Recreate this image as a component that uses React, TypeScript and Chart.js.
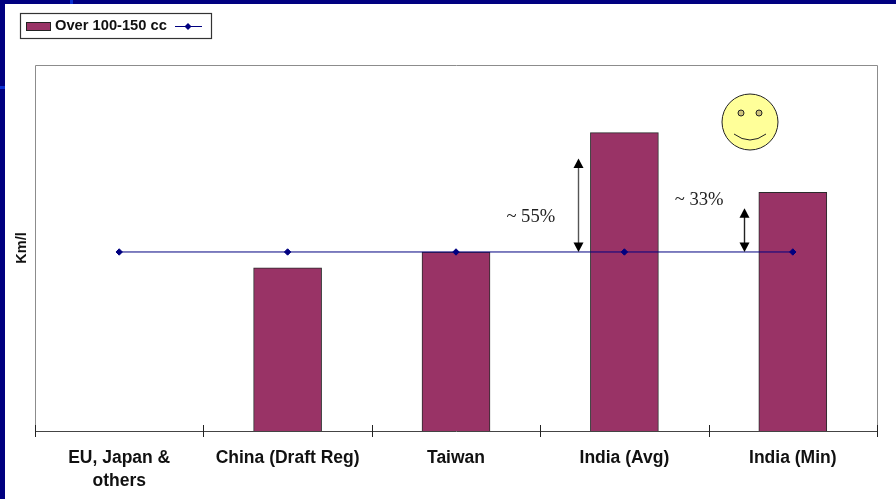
import { useEffect, useRef } from "react";
import { Chart, registerables } from "chart.js";

Chart.register(...registerables);

const categories = [["EU, Japan &", "others"], "China (Draft Reg)", "Taiwan", "India (Avg)", "India (Min)"];
const fuelEconomy = [null, 41, 45, 75, 60];
const referenceLevel = [45, 45, 45, 45, 45];
const seriesName = "Over 100-150 cc";
const axisTitle = "Km/l";
const yMax = 92;
const gapNotes = [
  { label: "~ 55%", top: 68.5, dx: -46, textDx: -118, textValue: 53.7 },
  { label: "~ 33%", top: 56, dx: -49, textDx: -118, textValue: 58 },
];

const PLUM = "#993366";
const NAVY = "#000080";
const SANS = "'Liberation Sans', Arial, sans-serif";
const SERIF = "'Liberation Serif', 'Times New Roman', serif";

function arrowHead(ctx: CanvasRenderingContext2D, x: number, tipY: number, dir: number) {
  ctx.beginPath();
  ctx.moveTo(x, tipY);
  ctx.lineTo(x - 5, tipY + dir * 9.5);
  ctx.lineTo(x + 5, tipY + dir * 9.5);
  ctx.closePath();
  ctx.fill();
}

// Slide background: navy frame with a white panel, plus two small bright specks on the frame.
const backdrop = {
  id: "backdrop",
  beforeDraw(chart: Chart) {
    const { ctx, width, height } = chart;
    ctx.save();
    ctx.fillStyle = NAVY;
    ctx.fillRect(0, 0, width, height);
    ctx.fillStyle = "#0a2fd0";
    ctx.fillRect(0, 86, 5, 3);
    ctx.fillRect(70, 0, 3, 4);
    ctx.fillStyle = "#ffffff";
    ctx.fillRect(5, 4, width - 5, height - 4);
    ctx.restore();
  },
};

// Plot frame, category ticks, legend box, gap arrows and the smiley.
const decorations = {
  id: "decorations",
  beforeDatasetsDraw(chart: Chart) {
    const { ctx, chartArea: a } = chart;
    ctx.save();
    ctx.strokeStyle = "#8c8c8c";
    ctx.lineWidth = 1;
    ctx.beginPath();
    ctx.moveTo(a.left + 0.5, a.bottom);
    ctx.lineTo(a.left + 0.5, a.top + 0.5);
    ctx.lineTo(a.right + 0.5, a.top + 0.5);
    ctx.lineTo(a.right + 0.5, a.bottom);
    ctx.stroke();
    ctx.restore();
  },
  afterDraw(chart: Chart) {
    const { ctx, chartArea: a } = chart;
    const xs = chart.scales.x;
    const ys = chart.scales.y;
    ctx.save();

    // Category ticks cross the axis line
    ctx.strokeStyle = "#222222";
    ctx.lineWidth = 1;
    const step = (a.right - a.left) / categories.length;
    for (let i = 0; i <= categories.length; i++) {
      const x = Math.round(a.left + step * i) + 0.5;
      ctx.beginPath();
      ctx.moveTo(x, a.bottom - 6);
      ctx.lineTo(x, a.bottom + 6);
      ctx.stroke();
    }

    // Legend
    ctx.fillStyle = "#ffffff";
    ctx.fillRect(20.5, 13.5, 191, 25);
    ctx.strokeStyle = "#333333";
    ctx.lineWidth = 1.2;
    ctx.strokeRect(20.5, 13.5, 191, 25);
    ctx.lineWidth = 1;
    ctx.fillStyle = PLUM;
    ctx.fillRect(26, 22, 24, 8);
    ctx.strokeStyle = "#222222";
    ctx.strokeRect(26.5, 22.5, 24, 8);
    ctx.fillStyle = "#111111";
    ctx.font = `bold 14.7px ${SANS}`;
    ctx.textAlign = "left";
    ctx.textBaseline = "middle";
    ctx.fillText(seriesName, 55, 26);
    ctx.strokeStyle = NAVY;
    ctx.beginPath();
    ctx.moveTo(175, 26.5);
    ctx.lineTo(202, 26.5);
    ctx.stroke();
    ctx.fillStyle = NAVY;
    ctx.beginPath();
    ctx.moveTo(188, 23);
    ctx.lineTo(191.5, 26.5);
    ctx.lineTo(188, 30);
    ctx.lineTo(184.5, 26.5);
    ctx.closePath();
    ctx.fill();

    // Gap arrows between the reference line and the two India bars
    gapNotes.forEach((note, i) => {
      const centre = xs.getPixelForValue(3 + i);
      const x = Math.round(centre + note.dx) + 0.5;
      const bottom = ys.getPixelForValue(referenceLevel[3 + i]);
      const top = ys.getPixelForValue(note.top);
      ctx.strokeStyle = i === 0 ? "#555555" : "#222222";
      ctx.lineWidth = 1.4;
      ctx.beginPath();
      ctx.moveTo(x, top + 4);
      ctx.lineTo(x, bottom - 4);
      ctx.stroke();
      ctx.fillStyle = "#000000";
      arrowHead(ctx, x, top, 1);
      arrowHead(ctx, x, bottom, -1);
      ctx.font = `18.6px ${SERIF}`;
      ctx.textAlign = "left";
      ctx.textBaseline = "middle";
      ctx.fillStyle = "#222222";
      ctx.fillText(note.label, centre + note.textDx, ys.getPixelForValue(note.textValue));
    });

    // Smiley
    const cx = 750;
    const cy = 122;
    ctx.fillStyle = "#ffff99";
    ctx.strokeStyle = "#222222";
    ctx.lineWidth = 1;
    ctx.beginPath();
    ctx.arc(cx, cy, 28, 0, Math.PI * 2);
    ctx.fill();
    ctx.stroke();
    ctx.fillStyle = "#cdc27a";
    [-9, 9].forEach((dx) => {
      ctx.beginPath();
      ctx.arc(cx + dx, cy - 9, 3, 0, Math.PI * 2);
      ctx.fill();
      ctx.stroke();
    });
    ctx.beginPath();
    ctx.moveTo(cx - 16, cy + 12);
    ctx.quadraticCurveTo(cx, cy + 24, cx + 16, cy + 12);
    ctx.stroke();

    ctx.restore();
  },
};

export default function App() {
  const canvasRef = useRef<HTMLCanvasElement>(null);

  useEffect(() => {
    document.body.style.margin = "0";
    document.body.style.background = "#ffffff";
    const chart = new Chart(canvasRef.current!, {
      type: "bar",
      data: {
        labels: categories as any,
        datasets: [
          {
            type: "line",
            label: "Reference level",
            data: referenceLevel,
            borderColor: NAVY,
            borderWidth: 1,
            pointStyle: "rectRot",
            pointRadius: 3.2,
            pointBackgroundColor: NAVY,
            pointBorderColor: NAVY,
            tension: 0,
            order: 0,
          },
          {
            type: "bar",
            label: seriesName,
            data: fuelEconomy as any,
            backgroundColor: PLUM,
            borderColor: "#2b2b2b",
            borderWidth: 1,
            barThickness: 68,
            order: 1,
          },
        ],
      },
      options: {
        responsive: false,
        animation: false,
        layout: { padding: { top: 65, right: 19, bottom: 0, left: 0 } },
        plugins: { legend: { display: false }, tooltip: { enabled: false } },
        scales: {
          x: {
            grid: { display: false },
            border: { color: "#444444" },
            ticks: {
              color: "#111111",
              font: { family: SANS, size: 17.5, weight: "bold", lineHeight: 1.3 },
              maxRotation: 0,
              autoSkip: false,
              padding: 8,
            },
            afterFit(scale: any) {
              scale.height = 68;
            },
          },
          y: {
            min: 0,
            max: yMax,
            grid: { display: false },
            border: { display: false },
            ticks: { display: false },
            title: {
              display: true,
              text: axisTitle,
              color: "#111111",
              font: { family: SANS, size: 14.5, weight: "bold" },
              padding: { top: 13, bottom: 0 },
            },
            afterFit(scale: any) {
              scale.width = 35;
            },
          },
        },
      },
      plugins: [backdrop, decorations],
    } as any);
    return () => chart.destroy();
  }, []);

  return (
    <div style={{ width: 896, height: 499, overflow: "hidden" }}>
      <canvas ref={canvasRef} width={896} height={499} style={{ display: "block" }} />
    </div>
  );
}
